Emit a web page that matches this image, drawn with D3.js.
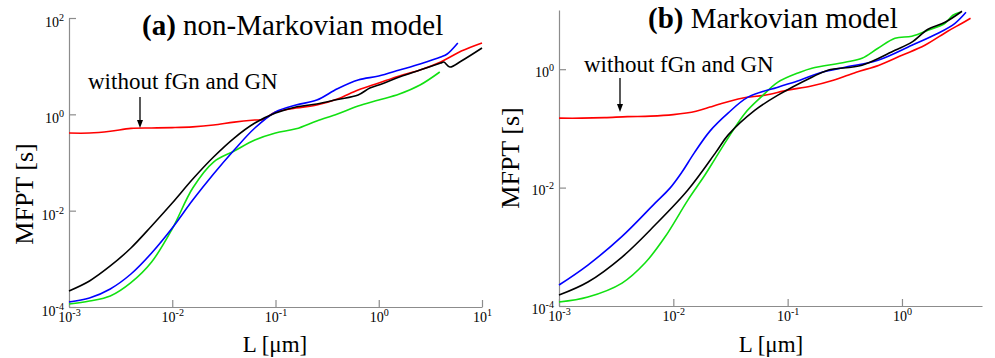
<!DOCTYPE html>
<html><head><meta charset="utf-8">
<script src="https://cdn.jsdelivr.net/npm/d3@7"></script>
<style>
body{margin:0;background:#fff}
text{font-family:"Liberation Serif","Times New Roman",serif;fill:#000}
</style>
</head><body>
<svg id="chart" width="995" height="358"></svg>
<script>
// ---------- data: [L (µm), MFPT (s)] ----------
const aRed = [[0.001,0.409],[0.00158,0.409],[0.00251,0.445],[0.00398,0.51],[0.00631,0.52],[0.01,0.53],[0.0158,0.55],[0.0251,0.60],[0.0398,0.69],[0.0631,0.76],[0.0755,0.78],[0.1,1.12],[0.158,1.35],[0.251,1.56],[0.398,2.08],[0.631,3.20],[1,4.47],[1.585,6.25],[2.51,8.32],[3.98,12.2],[6.31,20.6],[10,30.3]];
const aBlack = [[0.001,2.15e-4],[0.00158,3.47e-4],[0.00251,7.10e-4],[0.00398,1.68e-3],[0.00631,4.81e-3],[0.01,0.0144],[0.0158,0.0454],[0.0251,0.130],[0.0398,0.322],[0.0631,0.66],[0.1,1.06],[0.158,1.42],[0.251,1.64],[0.398,2.03],[0.631,2.52],[0.82,3.52],[1,4.06],[1.585,5.96],[2.51,8.32],[3.98,11.6],[4.27,12.2],[4.88,9.6],[6.31,12.8],[10,23.8]];
const aBlue = [[0.001,1.27e-4],[0.00158,1.54e-4],[0.00251,2.37e-4],[0.00398,4.84e-4],[0.00631,1.32e-3],[0.01,4.36e-3],[0.0158,0.0166],[0.0251,0.0577],[0.0398,0.182],[0.0631,0.52],[0.1,1.12],[0.158,1.56],[0.251,1.98],[0.398,3.4],[0.631,5.16],[1,6.25],[1.585,8.32],[2.51,11.1],[3.98,15.5],[4.6,17.9],[5.83,30.3]];
const aGreen = [[0.001,1.15e-4],[0.00158,1.33e-4],[0.00251,1.69e-4],[0.00398,3.2e-4],[0.00631,8.59e-4],[0.01,4.2e-3],[0.0158,0.0295],[0.0251,0.102],[0.0398,0.173],[0.0631,0.293],[0.1,0.41],[0.158,0.50],[0.251,0.73],[0.398,1.02],[0.631,1.49],[1,1.98],[1.585,2.64],[2.51,4.06],[3.9,7.57]];

const bRed = [[0.001,0.149],[0.00158,0.149],[0.00251,0.152],[0.00398,0.158],[0.00631,0.161],[0.01,0.171],[0.0158,0.195],[0.0209,0.229],[0.0251,0.256],[0.0398,0.324],[0.0631,0.364],[0.1,0.443],[0.158,0.516],[0.251,0.652],[0.398,0.889],[0.631,1.17],[1,1.72],[1.585,2.54],[2.51,4.38],[3.35,5.97],[3.98,7.26]];
const bBlack = [[0.001,1.53e-4],[0.00179,2.54e-4],[0.00356,6.71e-4],[0.00692,2.33e-3],[0.0134,0.0091],[0.0236,0.0397],[0.0301,0.077],[0.0518,0.203],[0.0822,0.364],[0.163,0.733],[0.225,0.962],[0.447,1.17],[0.869,2.09],[1.22,2.86],[1.69,4.73],[2.38,6.21],[3.35,9.53]];
const bBlue = [[0.001,2.26e-4],[0.00179,4.92e-4],[0.00356,1.5e-3],[0.00692,5.47e-3],[0.00935,9.8e-3],[0.0119,0.0183],[0.0152,0.0382],[0.0209,0.09],[0.0301,0.181],[0.045,0.337],[0.0822,0.497],[0.128,0.652],[0.20,0.889],[0.318,1.08],[0.617,1.42],[1.22,2.54],[2.07,4.05],[2.91,5.97],[3.63,9.16]];
const bGreen = [[0.001,1.17e-4],[0.00179,1.42e-4],[0.00356,2.44e-4],[0.00565,5.32e-4],[0.00845,1.46e-3],[0.0134,6.15e-3],[0.0189,0.0163],[0.0231,0.0303],[0.0301,0.0684],[0.0424,0.181],[0.0597,0.35],[0.0822,0.604],[0.128,0.889],[0.163,1.04],[0.318,1.31],[0.447,1.53],[0.617,2.26],[0.869,3.34],[1.22,3.61],[1.69,4.55],[2.38,5.97],[2.79,8.15],[3.22,9.16]];

const xTicksA = [1e-3,1e-2,1e-1,1e0,1e1];
const yTicksA = [1e-4,1e-2,1e0,1e2];
const xTicksB = [1e-3,1e-2,1e-1,1e0];
const yTicksB = [1e-4,1e-2,1e0];
const titlesBold = ["(a)","(b)"];
const titlesRest = [" non-Markovian model"," Markovian model"];
const annotation = "without fGn and GN";
const xLabel = "L [\u03bcm]";
const yLabel = "MFPT [s]";

const colors = {red:"#ff0000", black:"#000000", blue:"#0000ff", green:"#11e011"};
const svg = d3.select("#chart");
svg.append("rect").attr("width",995).attr("height",358).attr("fill","#fff");

function supLabel(sel, fs){
  sel.each(function(d){
    const t = d3.select(this);
    const e = Math.round(Math.log10(d));
    t.text(null);
    t.append("tspan").text("10");
    t.append("tspan").attr("dy", -6).attr("font-size", fs*0.72).text(String(e));
  });
}

function panel(cfg){
  const g = svg.append("g");
  const x = d3.scaleLog().domain(cfg.xDom).range([cfg.left, cfg.right]);
  const y = d3.scaleLog().domain(cfg.yDom).range([cfg.bottom, cfg.top]);

  const xa = g.append("g").attr("transform",`translate(0,${cfg.bottom})`)
    .call(d3.axisBottom(x).tickValues(cfg.xTicks).tickSize(-7).tickSizeOuter(0).tickPadding(5));
  const ya = g.append("g").attr("transform",`translate(${cfg.left},0)`)
    .call(d3.axisLeft(y).tickValues(cfg.yTicks).tickSize(-7).tickSizeOuter(0).tickPadding(5));
  [xa,ya].forEach(a=>{
    a.selectAll("path,line").attr("stroke","#8c8c8c").attr("stroke-width",1.2);
    a.selectAll("text").attr("font-family","Liberation Serif").attr("font-size",14).attr("fill","#000");
  });
  supLabel(xa.selectAll(".tick text"),14);
  supLabel(ya.selectAll(".tick text"),14);
  ya.selectAll(".tick text").attr("dy", cfg.yLabDy);

  const line = d3.line().x(d=>x(d[0])).y(d=>y(d[1])).curve(d3.curveCatmullRom.alpha(0.5));
  cfg.series.forEach(s=>{
    g.append("path").datum(s.data).attr("d",line)
      .attr("fill","none").attr("stroke",s.color).attr("stroke-width",1.6)
      .attr("stroke-linejoin","round");
  });

  // title
  const tt = g.append("text").attr("x",cfg.titleX).attr("y",cfg.titleY).attr("font-size",29);
  tt.append("tspan").attr("font-weight","bold").text(cfg.tBold);
  tt.append("tspan").text(cfg.tRest);

  // annotation
  g.append("text").attr("x",cfg.annX).attr("y",cfg.annY).attr("font-size",23).text(annotation);
  g.append("line").attr("x1",cfg.arrX).attr("x2",cfg.arrX).attr("y1",cfg.arrY1).attr("y2",cfg.arrY2-6)
    .attr("stroke","#000").attr("stroke-width",1.3);
  g.append("path").attr("d",`M${cfg.arrX-3},${cfg.arrY2-8}L${cfg.arrX+3},${cfg.arrY2-8}L${cfg.arrX},${cfg.arrY2}Z`).attr("fill","#000");

  // axis labels
  g.append("text").attr("x",cfg.xLabX).attr("y",cfg.xLabY).attr("text-anchor","middle").attr("font-size",23).text(xLabel);
  g.append("text").attr("transform",`translate(${cfg.yLabX},${cfg.yLabY}) rotate(-90)`)
    .attr("text-anchor","middle").attr("font-size",26).text(yLabel);
}

panel({
  xDom:[1e-3,10], yDom:[1e-4,100], left:69, right:482, top:18, bottom:307,
  xTicks:xTicksA, yTicks:yTicksA, yLabDy:"0.6em",
  series:[{data:aRed,color:colors.red},{data:aGreen,color:colors.green},{data:aBlue,color:colors.blue},{data:aBlack,color:colors.black}],
  tBold:titlesBold[0], tRest:titlesRest[0], titleX:142, titleY:35,
  annX:88, annY:89, arrX:140, arrY1:97, arrY2:128,
  xLabX:275, xLabY:352, yLabX:33, yLabY:194
});
panel({
  xDom:[1e-3,Math.pow(10,0.7)], yDom:[1e-4,10], left:559, right:982, top:10, bottom:306,
  xTicks:xTicksB, yTicks:yTicksB, yLabDy:"0.5em",
  series:[{data:bRed,color:colors.red},{data:bGreen,color:colors.green},{data:bBlue,color:colors.blue},{data:bBlack,color:colors.black}],
  tBold:titlesBold[1], tRest:titlesRest[1], titleX:648, titleY:28,
  annX:584, annY:72, arrX:620, arrY1:78, arrY2:112,
  xLabX:771, xLabY:352, yLabX:519, yLabY:158
});
</script>
</body></html>
